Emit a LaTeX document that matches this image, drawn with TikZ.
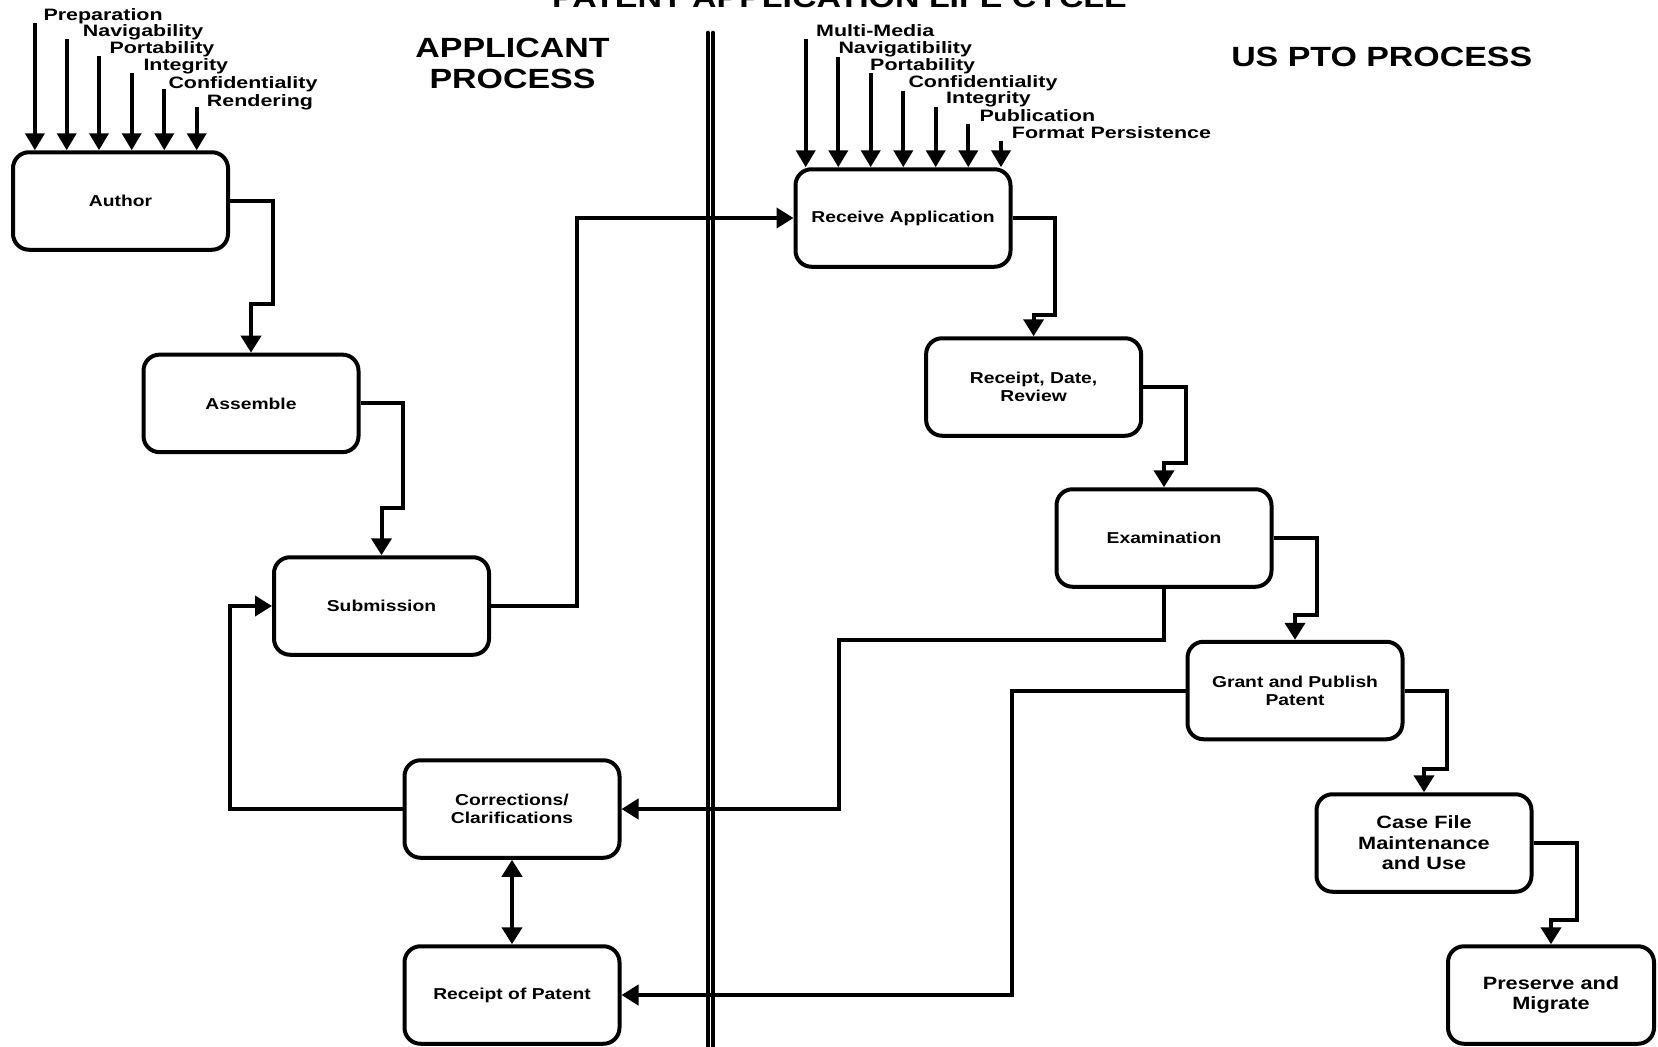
\documentclass[tikz,border=0pt]{standalone}
\usepackage{fontspec,tikz,xcolor}
\usetikzlibrary{arrows.meta}
\newfontfamily\boxfont{Liberation Sans}[FakeStretch=1.22]
\newfontfamily\tagfont{Liberation Sans}[FakeStretch=1.3]

\begin{document}
\begin{tikzpicture}[x=1pt,y=-1pt,
        stage/.style={draw,line width=4pt,rounded corners=16pt,minimum width=215pt,minimum height=97.5pt,inner sep=0pt,align=center,font=\boxfont\bfseries\fontsize{15.8}{18}\selectfont},
        bigstage/.style={stage,font=\boxfont\bfseries\fontsize{17.8}{20.5}\selectfont},
        tag/.style={anchor=base west,inner sep=0pt,font=\tagfont\bfseries\fontsize{16.5}{17}\selectfont},
        head/.style={inner sep=0pt,align=center,font=\boxfont\bfseries\fontsize{27.8}{30.7}\selectfont},
        flow/.style={line width=4pt,-{Triangle[width=20pt,length=17pt]}},
        feed/.style={line width=4pt,-{Triangle[width=19pt,length=17pt]}}]
        \useasboundingbox (0,0) rectangle (1658,1047);

        \node[head,anchor=base] (title) at (839.5,7) {PATENT APPLICATION LIFE CYCLE};
        \node[head,anchor=north] (applicant) at (512.5,38.3) {APPLICANT\\PROCESS};
        \node[head,anchor=base] (uspto) at (1381.7,66) {US PTO PROCESS};

        % dividing line
        \draw[line width=4.6pt,line cap=round] (707.8,33) -- (707.8,1055);
        \draw[line width=4.6pt,line cap=round] (713,33) -- (713,1055);

        \node[stage] (author) at (120.5,201) {Author};
        \node[stage] (assemble) at (251,403.4) {Assemble};
        \node[stage] (submission) at (381.5,606) {Submission};
        \node[stage] (corrections) at (512,809) {Corrections/\\Clarifications};
        \node[stage] (receipt) at (512,995) {Receipt of Patent};
        \node[stage] (receive) at (903,218) {Receive Application};
        \node[stage] (review) at (1033.6,387) {Receipt, Date,\\Review};
        \node[stage] (exam) at (1164,538) {Examination};
        \node[stage] (grant) at (1295,690.5) {Grant and Publish\\Patent};
        \node[bigstage] (casefile) at (1424,843) {Case File\\Maintenance\\and Use};
        \node[bigstage,minimum width=206pt] (preserve) at (1551,995) {Preserve and\\Migrate};

        \coordinate (a1) at (34.9,22.7);
        \coordinate (a2) at (66.7,39.3);
        \coordinate (a3) at (99,56);
        \coordinate (a4) at (131.7,72.7);
        \coordinate (a5) at (164.3,89.3);
        \coordinate (a6) at (196.7,106.7);
        \node[tag] (prep) at (43.3,20.7) {Preparation};
        \node[tag] (navl) at (82.7,36.7) {Navigability};
        \node[tag] (portl) at (109.3,53) {Portability};
        \node[tag] (integl) at (143.3,70) {Integrity};
        \node[tag] (confl) at (168.3,88) {Confidentiality};
        \node[tag] (rend) at (206.7,106) {Rendering};
        \draw[feed] (a1) -- (a1 |- author.north);
        \draw[feed] (a2) -- (a2 |- author.north);
        \draw[feed] (a3) -- (a3 |- author.north);
        \draw[feed] (a4) -- (a4 |- author.north);
        \draw[feed] (a5) -- (a5 |- author.north);
        \draw[feed] (a6) -- (a6 |- author.north);

        \coordinate (r1) at (805.7,39.3);
        \coordinate (r2) at (838.3,56.7);
        \coordinate (r3) at (870.7,73.3);
        \coordinate (r4) at (903.3,90.7);
        \coordinate (r5) at (935.7,107.3);
        \coordinate (r6) at (968.3,124.3);
        \coordinate (r7) at (1001,140.7);
        \node[tag] (media) at (816,36.7) {Multi-Media};
        \node[tag] (navr) at (838.3,53.3) {Navigatibility};
        \node[tag] (portr) at (870,70.7) {Portability};
        \node[tag] (confr) at (908.3,87.3) {Confidentiality};
        \node[tag] (integr) at (946,103.3) {Integrity};
        \node[tag] (publ) at (979.3,121.7) {Publication};
        \node[tag] (persist) at (1011.7,138.3) {Format Persistence};
        \draw[feed] (r1) -- (r1 |- receive.north);
        \draw[feed] (r2) -- (r2 |- receive.north);
        \draw[feed] (r3) -- (r3 |- receive.north);
        \draw[feed] (r4) -- (r4 |- receive.north);
        \draw[feed] (r5) -- (r5 |- receive.north);
        \draw[feed] (r6) -- (r6 |- receive.north);
        \draw[feed] (r7) -- (r7 |- receive.north);

        \draw[flow] (author.east) -| (272.8,303.5) -| (assemble.north);
        \draw[flow] (assemble.east) -| (402.9,507.6) -| (submission.north);
        \draw[flow] (submission.east) -| (577.3,218) -- (receive.west);
        \draw[flow] (receive.east) -| (1055.3,315) -| (review.north);
        \draw[flow] (review.east) -| (1185.7,462.7) -| (exam.north);
        \draw[flow] (exam.east) -| (1316.5,615.4) -| (grant.north);
        \draw[flow] (grant.east) -| (1446.5,768.7) -| (casefile.north);
        \draw[flow] (casefile.east) -| (1576.6,920) -| (preserve.north);
        \draw[flow] (exam.south) |- (838.5,639.7) |- (corrections.east);
        \draw[flow] (grant.west) -| (1012,995) -- (receipt.east);
        \draw[flow] (corrections.west) -| (229.5,606) -- (submission.west);
        \draw[line width=4pt,{Triangle[width=20pt,length=17pt]}-{Triangle[width=20pt,length=17pt]}] (corrections.south) -- (receipt.north);
\end{tikzpicture}
\end{document}
